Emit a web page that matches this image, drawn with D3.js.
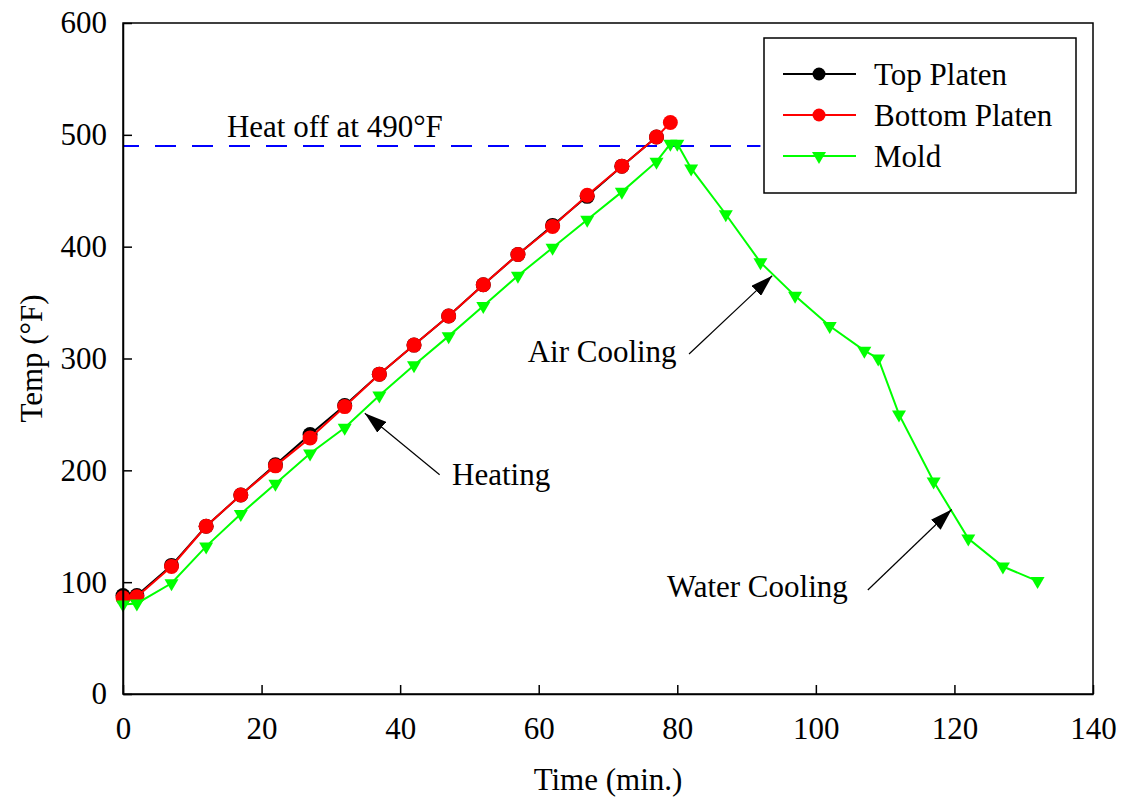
<!DOCTYPE html>
<html>
    <head>
        <meta charset="utf-8">
        <title>Temp vs Time</title>
        <style>
body {
    margin: 0;
    background-color: white;
    font-family: 'Liberation Serif', 'Times New Roman', serif;
}

svg text {
    font-family: 'Liberation Serif', 'Times New Roman', serif;
    fill: black;
}

.axis path, .axis line {
    stroke: black;
    stroke-width: 1.5;
}

.axis text {
    font-size: 31px;
}
</style>
        <script src="https://cdn.jsdelivr.net/npm/d3@7"></script>
    </head>
    <body>
        <script>
var width = 1125,
    height = 801;

// data
var topTime = [0, 2, 7, 12, 17, 22, 27, 32, 37, 42, 47, 52, 57, 62, 67, 72, 77];
var topPlaten = [88, 88, 115, 150, 178, 205, 232, 258, 286, 312, 338, 366, 393, 419, 445, 472, 498];

var bottomTime = [0, 2, 7, 12, 17, 22, 27, 32, 37, 42, 47, 52, 57, 62, 67, 72, 77, 79];
var bottomPlaten = [86, 87, 114, 150, 178, 204, 229, 257, 286, 312, 338, 366, 393, 418, 446, 472, 498, 511];

var moldTime = [0, 2, 7, 12, 17, 22, 27, 32, 37, 42, 47, 52, 57, 62, 67, 72, 77, 79, 80, 82, 87, 92, 97, 102, 107, 109, 112, 117, 122, 127, 132];
var mold = [80, 81, 99, 132, 161, 188, 215, 238, 267, 294, 320, 347, 374, 399, 424, 449, 476, 492, 492, 470, 429, 386, 356, 329, 307, 300, 250, 190, 139, 114, 101];

var xTicks = [0, 20, 40, 60, 80, 100, 120, 140];
var yTicks = [0, 100, 200, 300, 400, 500, 600];

var heatOff = 490;
var heatOffEnd = 92; // line runs under the legend box

var seriesNames = ["Top Platen", "Bottom Platen", "Mold"];
var seriesColors = ["#000000", "#ff0000", "#00ff00"];

// annotation text anchors and arrows (data units)
var notes = [
    {text: "Heating", x: 47.5, y: 187, from: [45.7, 196], to: [34.9, 251]},
    {text: "Air Cooling", x: 58.4, y: 297, from: [81.7, 304], to: [93.7, 374]},
    {text: "Water Cooling", x: 78.5, y: 87, from: [107.5, 93], to: [119.6, 165]}
];

var margin = {left: 123, top: 23, right: 32, bottom: 107};

var x = d3.scaleLinear().domain([0, 140]).range([margin.left, width - margin.right]);
var y = d3.scaleLinear().domain([0, 600]).range([height - margin.bottom, margin.top]);

var svg = d3.select('body')
    .append('svg')
    .attr('width', width)
    .attr('height', height);

var defs = svg.append('defs');
defs.append('marker')
    .attr('id', 'head')
    .attr('markerUnits', 'userSpaceOnUse')
    .attr('viewBox', '0 0 22 14')
    .attr('refX', 22)
    .attr('refY', 7)
    .attr('markerWidth', 22)
    .attr('markerHeight', 14)
    .attr('orient', 'auto')
    .append('path')
    .attr('d', 'M0,0 L22,7 L0,14 Z')
    .attr('fill', 'black');

// heat off line
svg.append('line')
    .attr('x1', x(0))
    .attr('x2', x(heatOffEnd))
    .attr('y1', y(heatOff))
    .attr('y2', y(heatOff))
    .attr('stroke', '#0000ff')
    .attr('stroke-width', 2)
    .attr('stroke-dasharray', '21,16')
    .attr('stroke-dashoffset', 5);

svg.append('text')
    .attr('x', x(15))
    .attr('y', y(498))
    .style('font-size', '31px')
    .text('Heat off at 490°F');

var line = d3.line()
    .x(function (d) { return x(d[0]); })
    .y(function (d) { return y(d[1]); });

var triangle = 'M-7,-4 L7,-4 L0,8 Z';

var drawSeries = function (xs, ys, color, shape) {
    var pts = d3.zip(xs, ys);
    svg.append('path')
        .datum(pts)
        .attr('d', line)
        .attr('fill', 'none')
        .attr('stroke', color)
        .attr('stroke-width', 2);

    if (shape === 'circle') {
        svg.append('g').selectAll('circle')
            .data(pts)
            .enter().append('circle')
            .attr('cx', function (d) { return x(d[0]); })
            .attr('cy', function (d) { return y(d[1]); })
            .attr('r', 7.5)
            .attr('fill', color);
    } else {
        svg.append('g').selectAll('path')
            .data(pts)
            .enter().append('path')
            .attr('transform', function (d) { return 'translate(' + x(d[0]) + ',' + y(d[1]) + ')'; })
            .attr('d', triangle)
            .attr('fill', color);
    }
};

drawSeries(topTime, topPlaten, seriesColors[0], 'circle');
drawSeries(bottomTime, bottomPlaten, seriesColors[1], 'circle');
drawSeries(moldTime, mold, seriesColors[2], 'triangle');

// annotations
notes.forEach(function (n) {
    svg.append('text')
        .attr('x', x(n.x))
        .attr('y', y(n.y))
        .style('font-size', '31px')
        .text(n.text);
    svg.append('line')
        .attr('x1', x(n.from[0]))
        .attr('y1', y(n.from[1]))
        .attr('x2', x(n.to[0]))
        .attr('y2', y(n.to[1]))
        .attr('stroke', 'black')
        .attr('stroke-width', 1.2)
        .attr('marker-end', 'url(#head)');
});

// axes, ticks inward
svg.append('g')
    .attr('class', 'axis')
    .attr('transform', 'translate(0,' + y(0) + ')')
    .call(d3.axisBottom(x).tickValues(xTicks).tickSizeInner(-9).tickSizeOuter(0).tickPadding(23));

svg.append('g')
    .attr('class', 'axis')
    .attr('transform', 'translate(' + x(0) + ',0)')
    .call(d3.axisLeft(y).tickValues(yTicks).tickSizeInner(-9).tickSizeOuter(0).tickPadding(16));

svg.append('rect')
    .attr('x', x(0))
    .attr('y', y(600))
    .attr('width', x(140) - x(0))
    .attr('height', y(0) - y(600))
    .attr('fill', 'none')
    .attr('stroke', 'black')
    .attr('stroke-width', 1.5);

svg.append('text')
    .attr('x', (x(0) + x(140)) / 2)
    .attr('y', 790)
    .attr('text-anchor', 'middle')
    .style('font-size', '31px')
    .text('Time (min.)');

svg.append('text')
    .attr('transform', 'translate(42,' + (y(0) + y(600)) / 2 + ') rotate(-90)')
    .attr('text-anchor', 'middle')
    .style('font-size', '31px')
    .text('Temp (°F)');

// legend
var legend = svg.append('g').attr('transform', 'translate(764,38)');
legend.append('rect')
    .attr('width', 312)
    .attr('height', 155)
    .attr('fill', 'white')
    .attr('stroke', 'black')
    .attr('stroke-width', 1.5);

seriesNames.forEach(function (name, i) {
    var row = legend.append('g').attr('transform', 'translate(0,' + (36 + i * 41) + ')');
    row.append('line')
        .attr('x1', 19)
        .attr('x2', 92)
        .attr('stroke', seriesColors[i])
        .attr('stroke-width', 2);
    if (i < 2) {
        row.append('circle')
            .attr('cx', 55)
            .attr('r', 6.5)
            .attr('fill', seriesColors[i]);
    } else {
        row.append('path')
            .attr('transform', 'translate(55,0)')
            .attr('d', triangle)
            .attr('fill', seriesColors[i]);
    }
    row.append('text')
        .attr('x', 110)
        .attr('y', 11)
        .style('font-size', '31px')
        .text(name);
});

        </script>
    </body>
</html>
